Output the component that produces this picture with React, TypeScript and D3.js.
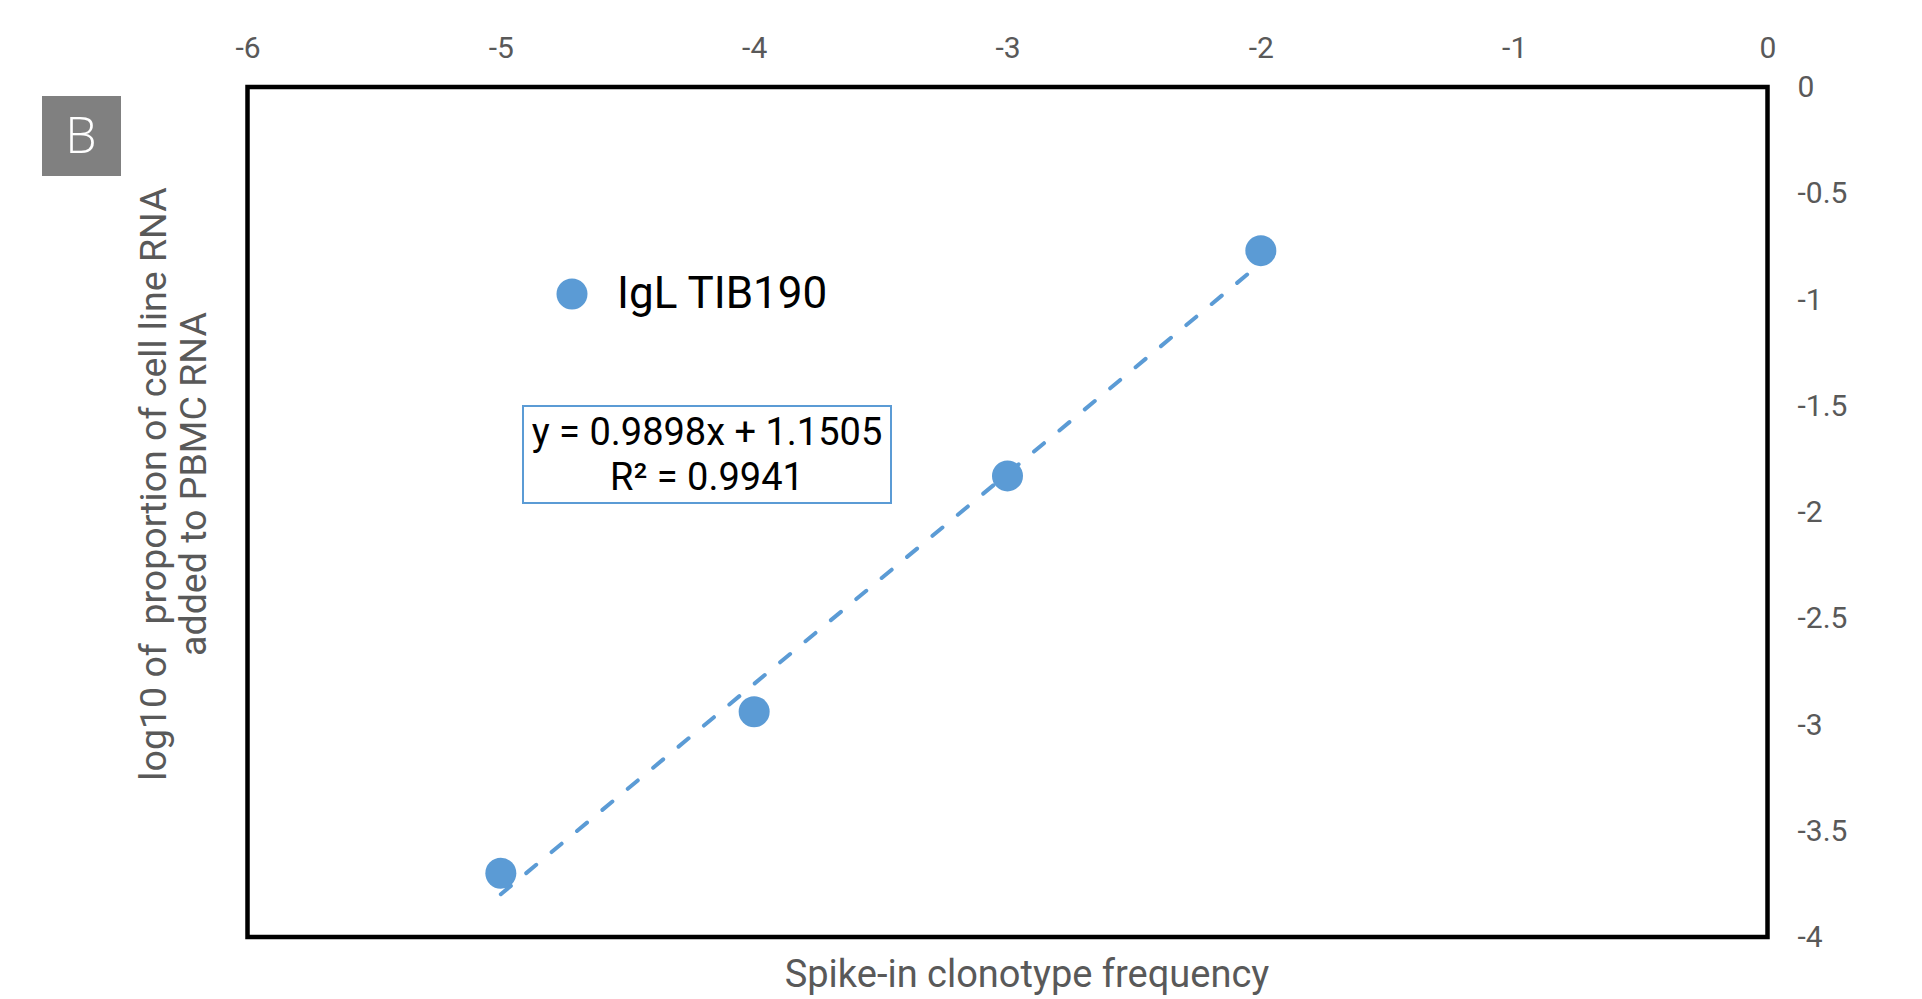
import React, { useEffect, useRef } from 'react';
import * as d3 from 'd3';

// spike-in frequency (log10) vs. measured proportion (log10)
const xValues = [-5, -4, -3, -2];
const yValues = [-3.7, -2.94, -1.83, -0.77];
const seriesName = 'IgL TIB190';

const xTicks = [-6, -5, -4, -3, -2, -1, 0];
const yTicks = [0, -0.5, -1, -1.5, -2, -2.5, -3, -3.5, -4];

// Excel linear trendline
const trendSlope = 0.9898;
const trendIntercept = 1.1505;
const trendR2 = 0.9941;

const W = 1922, H = 999;
const margin = { left: 247.5, right: 1767.5, top: 87, bottom: 937 };
const blue = '#5B9BD5';
const grey = '#595959';
const font = 'Roboto, "Noto Sans", sans-serif';

const App = () => {
  const ref = useRef<SVGSVGElement>(null);

  useEffect(() => {
    const svg = d3.select(ref.current);
    svg.selectAll('*').remove();

    const x = d3.scaleLinear().domain([-6, 0]).range([margin.left, margin.right]);
    const y = d3.scaleLinear().domain([-4, 0]).range([margin.bottom, margin.top]);

    // panel letter
    svg.append('rect')
      .attr('x', 42).attr('y', 96).attr('width', 79).attr('height', 80)
      .attr('fill', '#808080');
    svg.append('text')
      .attr('x', 81).attr('y', 153)
      .attr('text-anchor', 'middle')
      .attr('font-family', '"Open Sans", sans-serif')
      .attr('font-weight', 300)
      .attr('font-size', 50)
      .attr('fill', '#fff')
      .text('B');

    // plot frame
    svg.append('rect')
      .attr('x', margin.left).attr('y', margin.top)
      .attr('width', margin.right - margin.left)
      .attr('height', margin.bottom - margin.top)
      .attr('fill', 'none')
      .attr('stroke', '#000')
      .attr('stroke-width', 4.5);

    // top x axis
    const xAxis = svg.append('g')
      .attr('transform', `translate(0,${margin.top})`)
      .call(d3.axisTop(x).tickValues(xTicks).tickSize(0).tickPadding(29).tickFormat(d => String(d)));
    xAxis.select('.domain').remove();
    xAxis.selectAll('text')
      .attr('font-family', font).attr('font-size', 30).attr('fill', grey);

    // right y axis
    const yAxis = svg.append('g')
      .attr('transform', `translate(${margin.right},0)`)
      .call(d3.axisRight(y).tickValues(yTicks).tickSize(0).tickPadding(30).tickFormat(d => String(d)));
    yAxis.select('.domain').remove();
    yAxis.selectAll('text')
      .attr('font-family', font).attr('font-size', 30).attr('fill', grey);

    // axis titles
    svg.append('text')
      .attr('x', 1027).attr('y', 987)
      .attr('text-anchor', 'middle')
      .attr('font-family', font).attr('font-size', 38).attr('fill', grey)
      .text('Spike-in clonotype frequency');

    const yTitle = svg.append('text')
      .attr('transform', 'translate(0,484) rotate(-90)')
      .attr('text-anchor', 'middle')
      .attr('font-family', font).attr('font-size', 37.5).attr('fill', grey)
      .style('white-space', 'pre');
    yTitle.append('tspan').attr('x', 0).attr('y', 166).text('log10 of  proportion of cell line RNA');
    yTitle.append('tspan').attr('x', 0).attr('y', 206).text('added to PBMC RNA');

    // trendline over the data range
    const xExtent = d3.extent(xValues) as [number, number];
    const line = d3.line<number>().x(d => x(d)).y(d => y(trendSlope * d + trendIntercept));
    svg.append('path')
      .attr('d', line(xExtent))
      .attr('fill', 'none')
      .attr('stroke', blue)
      .attr('stroke-width', 4)
      .attr('stroke-linecap', 'round')
      .attr('stroke-dasharray', '13 20');

    // points
    svg.append('g').selectAll('circle')
      .data(xValues.map((v, i) => [v, yValues[i]]))
      .join('circle')
        .attr('cx', d => x(d[0]))
        .attr('cy', d => y(d[1]))
        .attr('r', 15.5)
        .attr('fill', blue);

    // legend
    svg.append('circle')
      .attr('cx', 572).attr('cy', 294).attr('r', 15.5).attr('fill', blue);
    svg.append('text')
      .attr('x', 617).attr('y', 308)
      .attr('font-family', font).attr('font-size', 44).attr('fill', '#000')
      .text(seriesName);

    // equation label
    svg.append('rect')
      .attr('x', 523).attr('y', 406).attr('width', 368).attr('height', 97)
      .attr('fill', '#fff').attr('stroke', blue).attr('stroke-width', 2);
    const eq = svg.append('text')
      .attr('text-anchor', 'middle')
      .attr('font-family', font).attr('font-size', 38).attr('fill', '#000');
    eq.append('tspan').attr('x', 707).attr('y', 445)
      .text(`y = ${trendSlope}x + ${trendIntercept}`);
    eq.append('tspan').attr('x', 707).attr('y', 490)
      .text(`R² = ${trendR2}`);
  }, []);

  return (
    <svg ref={ref} width={W} height={H}
      style={{ position: 'absolute', left: 0, top: 0, display: 'block', background: '#fff' }} />
  );
};

export default App;
